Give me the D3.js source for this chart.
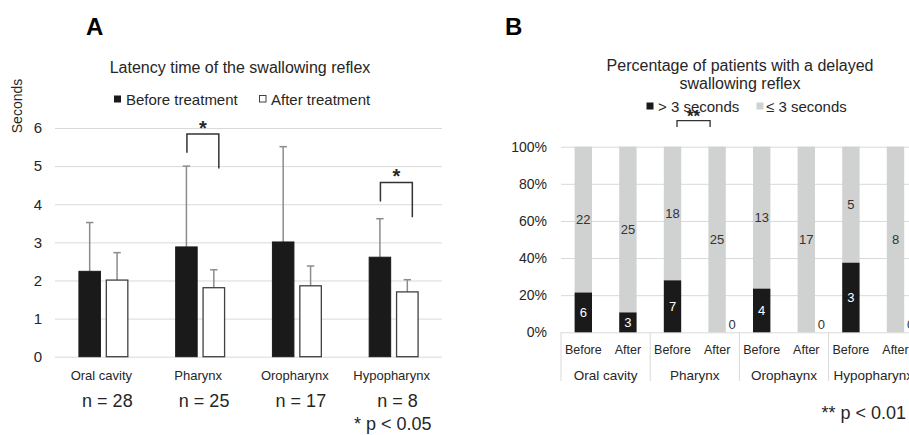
<!DOCTYPE html>
<html>
<head>
<meta charset="utf-8">
<script src="https://cdn.jsdelivr.net/npm/d3@7/dist/d3.min.js"></script>
<style>
  body { margin: 0; background: #fff; }
  svg { display: block; font-family: "Liberation Sans", Arial, sans-serif; }
</style>
</head>
<body>
<div id="chart"></div>
<script>
// ---- Panel A: latency time (seconds) ----
const sites = ["Oral cavity", "Pharynx", "Oropharynx", "Hypopharynx"];
const nLabels = ["n = 28", "n = 25", "n = 17", "n = 8"];
const beforeMean = [2.24, 2.88, 3.01, 2.61];
const beforeUpper = [3.52, 5.0, 5.51, 3.62];
const afterMean = [2.01, 1.81, 1.86, 1.70];
const afterUpper = [2.73, 2.28, 2.38, 2.02];
const secTicks = [0, 1, 2, 3, 4, 5, 6];
// brackets: top of bracket, bottom of left leg, bottom of right leg
const sigSites = ["Pharynx", "Hypopharynx"];
const sigTop = [5.84, 4.57];
const sigLeft = [5.35, 4.07];
const sigRight = [4.94, 3.66];

// ---- Panel B: % of patients with delayed reflex ----
const sitesB = ["Oral cavity", "Pharynx", "Orophaynx", "Hypopharynx"];
const phases = ["Before", "After"];
const over3 = [6, 3, 7, 0, 4, 0, 3, 0];
const upTo3 = [22, 25, 18, 25, 13, 17, 5, 8];
const pctTicks = [0, 20, 40, 60, 80, 100];

const W = 909, H = 435;
const svg = d3.select("#chart").append("svg")
    .attr("width", W).attr("height", H);

const grid = "#d9d9d9";
const ink = "#262626";

// ================= A =================
const xA = d3.scaleBand().domain(sites).range([55, 442]);
const yA = d3.scaleLinear().domain([0, 6]).range([356.7, 128]);
const barW = 21.5, off = 13.7;

svg.append("text").attr("x", 86).attr("y", 35)
    .style("font-weight", "bold").style("font-size", "24px").text("A");

svg.append("text").attr("x", 240).attr("y", 67).attr("text-anchor", "middle")
    .attr("dominant-baseline", "central").style("font-size", "16px").attr("fill", ink)
    .text("Latency time of the swallowing reflex");

// legend A
const legA = svg.append("g").style("font-size", "15px").attr("fill", ink);
legA.append("rect").attr("x", 114).attr("y", 95.5).attr("width", 7).attr("height", 7).attr("fill", "#1a1a1a");
legA.append("text").attr("x", 126).attr("y", 99).attr("dominant-baseline", "central").text("Before treatment");
legA.append("rect").attr("x", 259.5).attr("y", 95.5).attr("width", 6.5).attr("height", 6.5)
    .attr("fill", "#fff").attr("stroke", "#404040").attr("stroke-width", 1);
legA.append("text").attr("x", 271).attr("y", 99).attr("dominant-baseline", "central").text("After treatment");

svg.append("text").attr("transform", "translate(17,106) rotate(-90)")
    .attr("text-anchor", "middle").attr("dominant-baseline", "central")
    .style("font-size", "14px").attr("fill", ink).text("Seconds");

const axA = svg.append("g").attr("transform", "translate(55,0)")
    .call(d3.axisLeft(yA).tickValues(secTicks).tickFormat(d3.format("d"))
        .tickSize(-(442 - 55)).tickPadding(13));
axA.select(".domain").remove();
axA.selectAll(".tick line").attr("stroke", grid);
axA.selectAll(".tick text").style("font-size", "15px").attr("fill", ink)
    .style("font-family", "'Liberation Sans', Arial, sans-serif");

const cx = s => xA(s) + xA.bandwidth() / 2;

// error bars (upper only)
const errG = svg.append("g").attr("stroke", "#8c8c8c").attr("stroke-width", 1.5);
sites.forEach((s, i) => {
  [[-off, beforeMean[i], beforeUpper[i]], [off, afterMean[i], afterUpper[i]]].forEach(([o, m, u]) => {
    const x = cx(s) + o;
    errG.append("line").attr("x1", x).attr("x2", x).attr("y1", yA(m)).attr("y2", yA(u));
    errG.append("line").attr("x1", x - 3.7).attr("x2", x + 3.7).attr("y1", yA(u)).attr("y2", yA(u));
  });
});

svg.append("g").selectAll("rect").data(sites).join("rect")
    .attr("x", d => cx(d) - off - barW / 2).attr("width", barW)
    .attr("y", (d, i) => yA(beforeMean[i])).attr("height", (d, i) => yA(0) - yA(beforeMean[i]))
    .attr("fill", "#1a1a1a").attr("stroke", "#1a1a1a");
svg.append("g").selectAll("rect").data(sites).join("rect")
    .attr("x", d => cx(d) + off - barW / 2).attr("width", barW)
    .attr("y", (d, i) => yA(afterMean[i])).attr("height", (d, i) => yA(0) - yA(afterMean[i]))
    .attr("fill", "#fff").attr("stroke", "#404040").attr("stroke-width", 1.3);

// significance brackets
sigSites.forEach((s, i) => {
  const x1 = cx(s) - off + 0.5, x2 = cx(s) + off + 5;
  svg.append("path")
      .attr("d", `M${x1},${yA(sigLeft[i])}V${yA(sigTop[i])}H${x2}V${yA(sigRight[i])}`)
      .attr("fill", "none").attr("stroke", "#333").attr("stroke-width", 1.5);
  svg.append("text").attr("x", (x1 + x2) / 2).attr("y", yA(sigTop[i]) + 0.5)
      .attr("text-anchor", "middle").style("font-size", "20px").style("font-weight", "bold")
      .attr("fill", ink).text("*");
});

svg.append("g").selectAll("text").data(sites).join("text")
    .attr("x", d => cx(d) - 2).attr("y", 375).attr("text-anchor", "middle")
    .attr("dominant-baseline", "central").style("font-size", "13px").attr("fill", ink).text(d => d);
svg.append("g").selectAll("text").data(nLabels).join("text")
    .attr("x", (d, i) => cx(sites[i]) + 4).attr("y", 401).attr("text-anchor", "middle")
    .attr("dominant-baseline", "central").style("font-size", "18px").attr("fill", ink).text(d => d);
svg.append("text").attr("x", 354).attr("y", 424).attr("dominant-baseline", "central")
    .style("font-size", "18px").attr("fill", ink).text("* p < 0.05");

// ================= B =================
const bars = d3.range(8);
const xB = d3.scaleBand().domain(bars).range([561, 561 + 8 * 44.6]).paddingInner(0.61).paddingOuter(0.305);
const yB = d3.scaleLinear().domain([0, 100]).range([332.3, 146.7]);
const bc = i => xB(i) + xB.bandwidth() / 2;
const tot = i => over3[i] + upTo3[i];
const pOver = i => over3[i] / tot(i) * 100;

svg.append("text").attr("x", 505).attr("y", 35)
    .style("font-weight", "bold").style("font-size", "24px").text("B");

svg.append("text").attr("x", 740).attr("y", 65).attr("text-anchor", "middle")
    .attr("dominant-baseline", "central").style("font-size", "16px").attr("fill", ink)
    .text("Percentage of patients with a delayed");
svg.append("text").attr("x", 740).attr("y", 83).attr("text-anchor", "middle")
    .attr("dominant-baseline", "central").style("font-size", "16px").attr("fill", ink)
    .text("swallowing reflex");

const legB = svg.append("g").style("font-size", "15px").attr("fill", ink);
legB.append("rect").attr("x", 646.5).attr("y", 102.5).attr("width", 7).attr("height", 7).attr("fill", "#1a1a1a");
legB.append("text").attr("x", 658).attr("y", 106).attr("dominant-baseline", "central").text("> 3 seconds");
legB.append("rect").attr("x", 756.5).attr("y", 102.5).attr("width", 7).attr("height", 7).attr("fill", "#d0d1d1");
legB.append("text").attr("x", 766).attr("y", 106).attr("dominant-baseline", "central").text("\u2264 3 seconds");

const axB = svg.append("g").attr("transform", "translate(561,0)")
    .call(d3.axisLeft(yB).tickValues(pctTicks).tickFormat(d => d + "%").tickSize(-(W - 561)).tickPadding(14));
axB.select(".domain").remove();
axB.selectAll(".tick line").attr("stroke", grid);
axB.selectAll(".tick text").style("font-size", "14px").attr("fill", ink)
    .style("font-family", "'Liberation Sans', Arial, sans-serif");

// category separators
const step2 = xB.step() * 2;
svg.append("g").selectAll("line").data(d3.range(5)).join("line")
    .attr("x1", d => 561 + d * step2).attr("x2", d => 561 + d * step2)
    .attr("y1", yB(0)).attr("y2", 381).attr("stroke", grid);

// stacked bars
svg.append("g").selectAll("rect").data(bars).join("rect")
    .attr("x", d => xB(d)).attr("width", xB.bandwidth())
    .attr("y", yB(100)).attr("height", d => yB(pOver(d)) - yB(100))
    .attr("fill", "#d0d1d1");
svg.append("g").selectAll("rect").data(bars.filter(d => over3[d] > 0)).join("rect")
    .attr("x", d => xB(d)).attr("width", xB.bandwidth())
    .attr("y", d => yB(pOver(d))).attr("height", d => yB(0) - yB(pOver(d)))
    .attr("fill", "#1a1a1a");

// value labels
const lab = svg.append("g").style("font-size", "13px").attr("text-anchor", "middle")
    .attr("dominant-baseline", "central");
bars.forEach(d => {
  lab.append("text").attr("x", bc(d)).attr("y", yB((pOver(d) + 100) / 2))
      .attr("fill", "#333").text(upTo3[d]);
  if (over3[d] > 0) {
    lab.append("text").attr("x", bc(d)).attr("y", yB(pOver(d) / 2))
        .attr("fill", "#fff").text(over3[d]);
  } else {
    lab.append("text").attr("x", bc(d) + 15).attr("y", yB(0) - 8)
        .attr("fill", "#333").text(over3[d]);
  }
});

svg.append("g").selectAll("text").data(bars).join("text")
    .attr("x", d => bc(d)).attr("y", 349.5).attr("text-anchor", "middle")
    .attr("dominant-baseline", "central").style("font-size", "12.5px").attr("fill", ink)
    .text(d => phases[d % 2]);
svg.append("g").selectAll("text").data(sitesB).join("text")
    .attr("x", (d, i) => 561 + (i + 0.5) * step2).attr("y", 375).attr("text-anchor", "middle")
    .attr("dominant-baseline", "central").style("font-size", "13.5px").attr("fill", ink).text(d => d);

// ** bracket (Pharynx before vs after)
const bx1 = bc(2) + 4.5, bx2 = bc(3) - 7;
svg.append("path").attr("d", `M${bx1},127V120.7H${bx2}V127`)
    .attr("fill", "none").attr("stroke", "#333").attr("stroke-width", 1.3);
svg.append("text").attr("x", (bx1 + bx2) / 2).attr("y", 122).attr("text-anchor", "middle")
    .style("font-size", "17px").style("font-weight", "bold").attr("fill", ink).text("**");

svg.append("text").attr("x", 906).attr("y", 413).attr("text-anchor", "end")
    .attr("dominant-baseline", "central").style("font-size", "18px").attr("fill", ink)
    .text("** p < 0.01");
</script>
</body>
</html>
